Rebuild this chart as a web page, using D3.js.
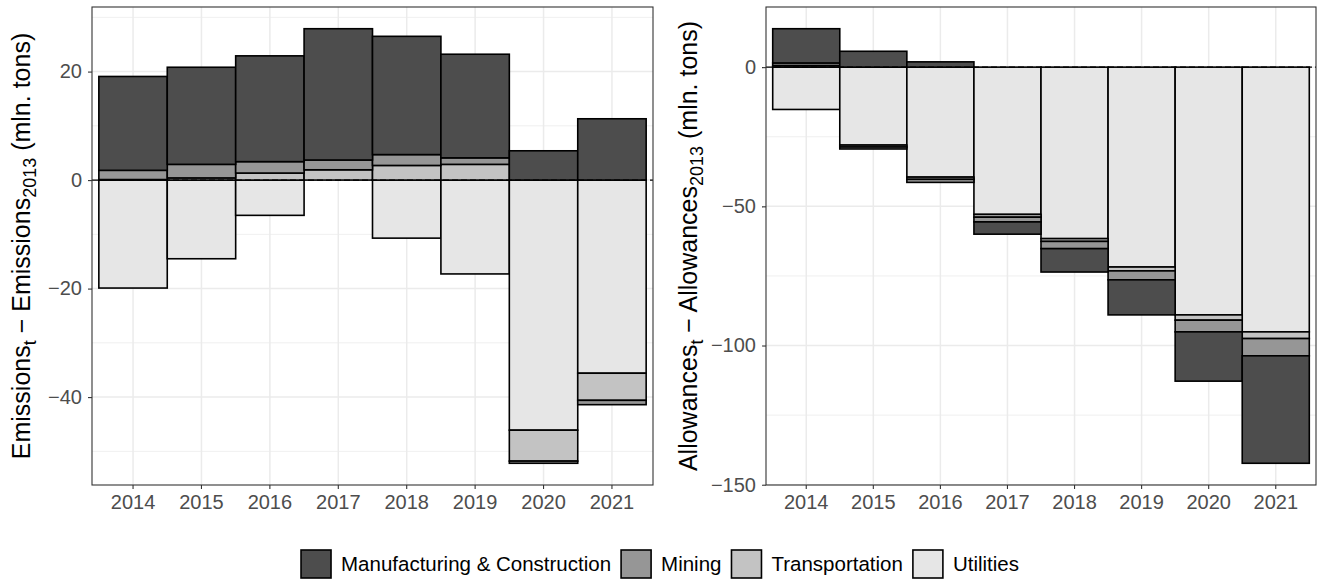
<!DOCTYPE html>
<html>
<head>
<meta charset="utf-8">
<script src="https://cdn.jsdelivr.net/npm/d3@7/dist/d3.min.js"></script>
<style>
  html, body { margin: 0; padding: 0; background: #fff; }
  svg { display: block; font-family: "Liberation Sans", Arial, sans-serif; }
</style>
</head>
<body>
<svg id="chart" width="1320" height="580"></svg>
<script>
// Categories and sectors
const years = ["2014", "2015", "2016", "2017", "2018", "2019", "2020", "2021"];
const sectors = ["Manufacturing & Construction", "Mining", "Transportation", "Utilities"];
const sectorFill = ["#4D4D4D", "#969696", "#C3C3C3", "#E6E6E6"];

// Change in emissions vs 2013 (mln. tons)
const emManufacturing = [17.3, 17.9, 19.5, 24.2, 21.8, 19.1, 5.4, 11.3];
const emMining        = [1.7, 2.5, 2.1, 1.8, 2.0, 1.2, -0.4, -0.8];
const emTransport     = [0.1, 0.4, 1.3, 1.9, 2.7, 2.9, -5.7, -5.0];
const emUtilities     = [-19.9, -14.5, -6.5, 0, -10.7, -17.3, -46.1, -35.6];

// Change in allowances vs 2013 (mln. tons)
const alManufacturing = [12.3, 5.7, 1.9, -4.4, -8.4, -12.6, -17.7, -38.6];
const alMining        = [0.9, -0.7, -1.1, -1.7, -2.6, -3.2, -4.2, -6.2];
const alTransport     = [0.6, -0.7, -0.8, -1.0, -1.0, -1.4, -1.9, -2.4];
const alUtilities     = [-15.2, -28.0, -39.5, -52.9, -61.6, -71.8, -89.0, -95.1];

// Axis ticks
const emTicks = [20, 0, -20, -40];
const emMinorTicks = [30, 10, -10, -30, -50];
const alTicks = [0, -50, -100, -150];
const alMinorTicks = [-25, -75, -125];

const svg = d3.select("#chart");

function drawPanel(opt) {
  const { x0, x1, y0, y1 } = opt.box;
  const series = [opt.manufacturing, opt.mining, opt.transport, opt.utilities];
  const rows = years.map((yr, i) => {
    const r = { year: yr };
    sectors.forEach((s, k) => { r[s] = series[k][i]; });
    return r;
  });

  // Utilities stacked nearest to zero, manufacturing furthest out
  const stackKeys = sectors.slice().reverse();
  const stacked = d3.stack().keys(stackKeys).offset(d3.stackOffsetDiverging)(rows);

  let lo = 0, hi = 0;
  stacked.forEach(s => s.forEach(d => { lo = Math.min(lo, d[0], d[1]); hi = Math.max(hi, d[0], d[1]); }));
  const pad = (hi - lo) * 0.05;

  const x = d3.scaleBand().domain(years).range([x0, x1]).paddingInner(0).paddingOuter(0.1);
  const y = d3.scaleLinear().domain([lo - pad, hi + pad]).range([y1, y0]);

  const g = svg.append("g");

  // panel grid
  g.append("g").selectAll("line").data(opt.minor).join("line")
    .attr("x1", x0).attr("x2", x1).attr("y1", d => y(d)).attr("y2", d => y(d))
    .attr("stroke", "#EBEBEB").attr("stroke-width", 0.8);
  g.append("g").selectAll("line").data(opt.ticks).join("line")
    .attr("x1", x0).attr("x2", x1).attr("y1", d => y(d)).attr("y2", d => y(d))
    .attr("stroke", "#EBEBEB").attr("stroke-width", 1.5);
  g.append("g").selectAll("line").data(years).join("line")
    .attr("x1", d => x(d) + x.bandwidth() / 2).attr("x2", d => x(d) + x.bandwidth() / 2)
    .attr("y1", y0).attr("y2", y1)
    .attr("stroke", "#EBEBEB").attr("stroke-width", 1.5);

  // stacked bars
  const layer = g.append("g").selectAll("g").data(stacked).join("g")
    .attr("fill", s => sectorFill[sectors.indexOf(s.key)]);
  layer.selectAll("rect").data(s => s).join("rect")
    .attr("x", d => x(d.data.year))
    .attr("width", x.bandwidth())
    .attr("y", d => y(Math.max(d[0], d[1])))
    .attr("height", d => Math.abs(y(d[0]) - y(d[1])))
    .attr("stroke", "#000").attr("stroke-width", 1.6);

  // zero reference line
  g.append("line")
    .attr("x1", x0).attr("x2", x1).attr("y1", y(0)).attr("y2", y(0))
    .attr("stroke", "#000").attr("stroke-width", 1.2).attr("stroke-dasharray", "6,3");

  // panel border
  g.append("rect").attr("x", x0).attr("y", y0).attr("width", x1 - x0).attr("height", y1 - y0)
    .attr("fill", "none").attr("stroke", "#333333").attr("stroke-width", 1.1);

  // axes
  const yAxis = g.append("g").attr("transform", `translate(${x0},0)`)
    .call(d3.axisLeft(y).tickValues(opt.ticks).tickSize(4).tickPadding(6));
  const xAxis = g.append("g").attr("transform", `translate(0,${y1})`)
    .call(d3.axisBottom(x).tickSize(4).tickPadding(6));
  [yAxis, xAxis].forEach(a => {
    a.select(".domain").remove();
    a.selectAll(".tick line").attr("stroke", "#333333").attr("stroke-width", 1.1);
    a.selectAll(".tick text").attr("fill", "#4D4D4D")
      .style("font-size", "20px").style("font-family", "'Liberation Sans', Arial, sans-serif");
  });

  // y-axis title with subscripts
  const t = g.append("text")
    .attr("transform", `translate(${opt.titleX},${(y0 + y1) / 2}) rotate(-90)`)
    .attr("text-anchor", "middle")
    .attr("fill", "#000")
    .style("font-size", "25px");
  t.append("tspan").text(opt.word);
  t.append("tspan").attr("dy", 6).style("font-size", "18px").text("t");
  t.append("tspan").attr("dy", -6).text(" \u2212 " + opt.word);
  t.append("tspan").attr("dy", 6).style("font-size", "18px").text("2013");
  t.append("tspan").attr("dy", -6).text(" (mln. tons)");
}

drawPanel({
  box: { x0: 92, x1: 653, y0: 7, y1: 485 },
  manufacturing: emManufacturing, mining: emMining, transport: emTransport, utilities: emUtilities,
  ticks: emTicks, minor: emMinorTicks, word: "Emissions", titleX: 30
});

drawPanel({
  box: { x0: 766, x1: 1316, y0: 7, y1: 485 },
  manufacturing: alManufacturing, mining: alMining, transport: alTransport, utilities: alUtilities,
  ticks: alTicks, minor: alMinorTicks, word: "Allowances", titleX: 697
});

// legend
const legend = svg.append("g");
const keyW = 30, keyH = 28, keyTop = 550, gapText = 10, gapItem = 10;
let cursor = 0;
sectors.forEach((s, i) => {
  const item = legend.append("g");
  item.append("rect").attr("x", 0).attr("y", keyTop).attr("width", keyW).attr("height", keyH)
    .attr("fill", sectorFill[i]).attr("stroke", "#000").attr("stroke-width", 1.6);
  const txt = item.append("text").attr("x", keyW + gapText).attr("y", keyTop + keyH / 2)
    .attr("dy", "0.35em").style("font-size", "20.5px").attr("fill", "#000").text(s);
  const w = keyW + gapText + txt.node().getComputedTextLength();
  item.attr("transform", `translate(${cursor},0)`);
  cursor += w + gapItem;
});
const totalW = cursor - gapItem;
legend.attr("transform", `translate(${660 - totalW / 2},0)`);
</script>
</body>
</html>
